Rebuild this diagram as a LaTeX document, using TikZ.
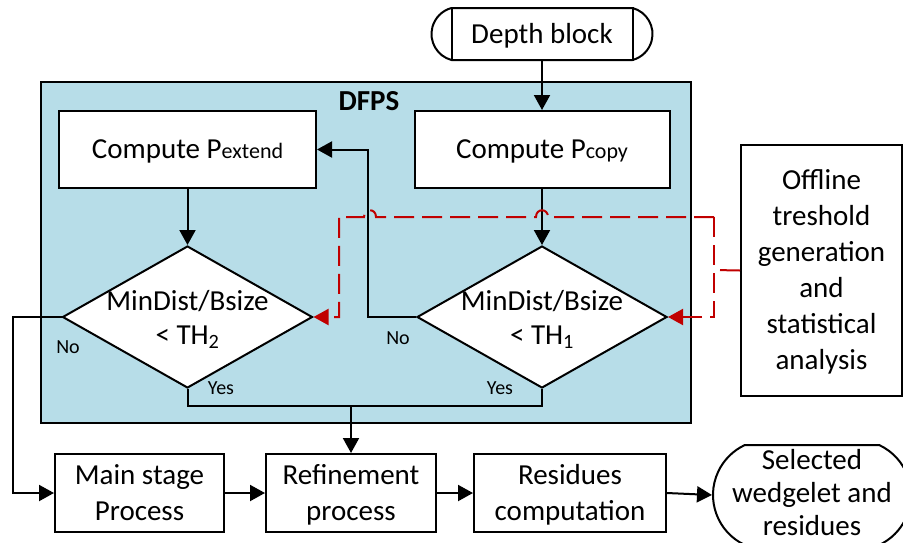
\documentclass[tikz,border=0pt]{standalone}
\usepackage{fontspec}
\setmainfont{Carlito}
\usetikzlibrary{arrows.meta,shapes.geometric,shapes.misc,calc}
\definecolor{dfpsblue}{HTML}{B7DDE8}
\definecolor{dashred}{HTML}{C00000}
\newcommand\fs{\rule{0pt}{26.6pt}}
\begin{document}
\begin{tikzpicture}[x=1pt,y=-1pt,
  every node/.style={font=\fontsize{29}{36}\selectfont},
  txt/.style={align=center,execute at end node={\rule[-8pt]{0pt}{8pt}}},
  box/.style={draw,line width=2pt,fill=white,txt,inner sep=0pt},
  dia/.style={draw,line width=2pt,fill=white,diamond,minimum width=250pt,minimum height=142pt,inner sep=0pt},
  term/.style={draw,line width=2pt,fill=white,rounded rectangle,txt,inner sep=0pt},
  arr/.style={line width=2pt,-{Triangle[length=15pt,width=16pt]}},
  ln/.style={line width=2pt},
  reddash/.style={draw=dashred,line width=2pt,dash pattern=on 20pt off 8pt},
  redarr/.style={reddash,-{Triangle[length=15pt,width=16pt]}},
  small/.style={font=\fontsize{20}{24}\selectfont}]
\useasboundingbox (0,0) rectangle (903,542);

% DFPS container
\node[draw,line width=2pt,fill=dfpsblue,minimum width=650pt,minimum height=341pt,inner sep=0pt] (dfps) at (366,252.5) {};
\node[font=\bfseries\fontsize{29}{36}\selectfont] (dfpslabel) at (369,101) {DFPS};

% start terminal
\node[term,rounded rectangle arc length=150,minimum width=221pt,minimum height=52pt] (db) at (542,34) {\fs Depth block};
\draw[ln] ($(db.north)+(-90,0)$) -- ($(db.south)+(-90,0)$);
\draw[ln] ($(db.north)+(91,0)$) -- ($(db.south)+(91,0)$);

% process boxes
\node[box,minimum width=257pt,minimum height=77pt] (pe) at (187.5,149.5) {\fs Compute P{\fontsize{22}{22}\selectfont extend}};
\node[box,minimum width=255pt,minimum height=77pt] (pc) at (542,149.5) {\fs Compute P{\fontsize{22}{22}\selectfont copy}};

% decisions
\node[dia] (d2) at (187.5,317) {};
\node[txt,font=\fontsize{29}{34}\selectfont] (t2) at (187.5,318) {\fs MinDist/Bsize\\< TH\textsubscript{2}};
\node[dia] (d1) at (542,317) {};
\node[txt,font=\fontsize{29}{34}\selectfont] (t1) at (542,318) {\fs MinDist/Bsize\\< TH\textsubscript{1}};

% offline box
\node[box,minimum width=161pt,minimum height=251pt] (off) at (821.5,270.5) {\fs Offline\\treshold\\generation\\and\\statistical\\analysis};

% bottom row
\node[box,minimum width=169pt,minimum height=78pt] (ms) at (139.5,493) {\fs Main stage\\Process};
\node[box,minimum width=170pt,minimum height=78pt] (rf) at (351,493) {\fs Refinement\\process};
\node[box,minimum width=192pt,minimum height=78pt] (rc) at (570,493) {\fs Residues\\computation};
\node[term,rounded rectangle arc length=130,minimum width=198pt,minimum height=100pt] (sel) at (812,495) {};
\node[txt,font=\fontsize{29}{33}\selectfont] (selt) at (812,493) {\fs Selected\\wedgelet and\\residues};

% connectors
\draw[arr] (db.south) -- (pc.north);
\draw[arr] (pc.south) -- (d1.north);
\draw[arr] (pe.south) -- (d2.north);
\draw[arr] (d1.west) -- ++(-48,0) |- (pe.east);
\draw[arr] (d2.west) -- ++(-49,0) |- (ms.west);
\draw[ln] (d2.south) -- ++(0,17) -| (d1.south);
\coordinate (yj) at (351,405);
\draw[arr] (yj) -- (rf.north);
\draw[arr] (ms.east) -- (rf.west);
\draw[arr] (rf.east) -- (rc.west);
\draw[arr] (rc.east) -- (sel.west);

% dashed threshold feedback
\coordinate (rj) at (714,217);
\coordinate (rs) at (714,270);
\draw[reddash] (off.west) -- (rs);
\draw[redarr] (rj) -- (714,317) -- (d1.east);
\draw[redarr] (rj) -- (548,217) .. controls (548,208) and (536,208) .. (536,217) -- (376,217) .. controls (376,208) and (364,208) .. (364,217) -- (339,217) -- (339,317) -- (d2.east);

% labels
\node[small] (no2) at (68,347) {No};
\node[small] (yes2) at (221,388) {Yes};
\node[small] (no1) at (398,338) {No};
\node[small] (yes1) at (500,388) {Yes};
\end{tikzpicture}
\end{document}
